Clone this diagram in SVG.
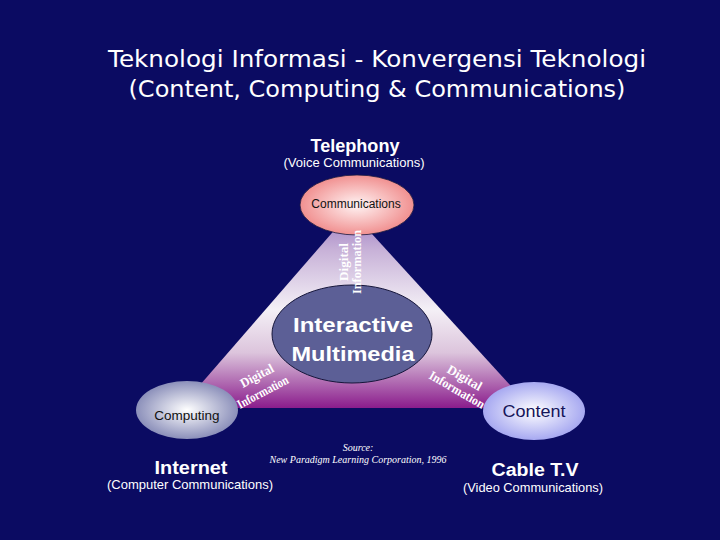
<svg xmlns="http://www.w3.org/2000/svg" width="720" height="540" viewBox="0 0 720 540">
<defs>
<linearGradient id="triGrad" x1="0" y1="211" x2="0" y2="408" gradientUnits="userSpaceOnUse">
<stop offset="0" stop-color="#9a78c0"/>
<stop offset="0.2" stop-color="#c8b2d8"/>
<stop offset="0.5" stop-color="#f4f0f6"/>
<stop offset="0.72" stop-color="#dcc4dc"/>
<stop offset="1" stop-color="#8a1c8c"/>
</linearGradient>
<radialGradient id="commGrad" cx="0.5" cy="0.5" r="0.6">
<stop offset="0" stop-color="#fff4f4"/>
<stop offset="1" stop-color="#ee7c7c"/>
</radialGradient>
<radialGradient id="compGrad" cx="0.5" cy="0.5" r="0.6">
<stop offset="0" stop-color="#ffffff"/>
<stop offset="1" stop-color="#7479ac"/>
</radialGradient>
<radialGradient id="contGrad" cx="0.5" cy="0.5" r="0.6">
<stop offset="0" stop-color="#ffffff"/>
<stop offset="1" stop-color="#9597ee"/>
</radialGradient>
</defs>
<style>
.sans{font-family:"Liberation Sans",Arial,sans-serif}
.title{font-family:"DejaVu Sans","Liberation Sans",sans-serif;font-size:23px;fill:#ffffff}
.head{font-family:"Liberation Sans",Arial,sans-serif;font-weight:bold;fill:#ffffff}
.sub{font-family:"Liberation Sans",Arial,sans-serif;font-size:13px;fill:#ffffff}
.dig{font-family:"Liberation Serif","Times New Roman",serif;font-size:13px;fill:#ffffff;font-weight:bold}
.src{font-family:"Liberation Serif","Times New Roman",serif;font-style:italic;font-size:10px;fill:#ffffff}
</style>
<rect x="0" y="0" width="720" height="540" fill="#0b0b62"/>
<g id="title">
<text class="title" x="377" y="67" text-anchor="middle" textLength="538" lengthAdjust="spacingAndGlyphs">Teknologi Informasi - Konvergensi Teknologi</text>
<text class="title" x="377" y="97" text-anchor="middle" textLength="497" lengthAdjust="spacingAndGlyphs">(Content, Computing &amp; Communications)</text>
</g>
<g id="connectors">
<polygon points="351,211 180,408 531,408" fill="url(#triGrad)"/>
</g>
<g id="telephony">
<text class="head" x="355" y="152" font-size="18" text-anchor="middle" textLength="89" lengthAdjust="spacingAndGlyphs">Telephony</text>
<text class="sub" x="354" y="167" text-anchor="middle" textLength="141" lengthAdjust="spacingAndGlyphs">(Voice Communications)</text>
</g>
<g id="communications">
<ellipse cx="357" cy="205" rx="57" ry="30" fill="url(#commGrad)" stroke="#1a1a40" stroke-width="0.8"/>
<text class="sans" x="356" y="208" font-size="12" fill="#111111" text-anchor="middle">Communications</text>
</g>
<g id="multimedia">
<ellipse cx="352" cy="334" rx="80" ry="49" fill="#5c5f96" stroke="#15153a" stroke-width="1"/>
<text class="sans" x="353" y="332" font-size="21" font-weight="bold" fill="#ffffff" text-anchor="middle" textLength="120" lengthAdjust="spacingAndGlyphs">Interactive</text>
<text class="sans" x="353" y="361" font-size="21" font-weight="bold" fill="#ffffff" text-anchor="middle" textLength="123" lengthAdjust="spacingAndGlyphs">Multimedia</text>
</g>
<g id="digital-labels">
<text class="dig" transform="translate(348,281) rotate(-90)" textLength="38" lengthAdjust="spacingAndGlyphs">Digital</text>
<text class="dig" transform="translate(361,294) rotate(-90)" textLength="64" lengthAdjust="spacingAndGlyphs">Information</text>
<text class="dig" transform="translate(243,388) rotate(-28)" textLength="36" lengthAdjust="spacingAndGlyphs">Digital</text>
<text class="dig" transform="translate(240,409) rotate(-28)" textLength="56" lengthAdjust="spacingAndGlyphs">Information</text>
<text class="dig" transform="translate(446,372) rotate(30)" textLength="38" lengthAdjust="spacingAndGlyphs">Digital</text>
<text class="dig" transform="translate(428,378) rotate(30)" textLength="62" lengthAdjust="spacingAndGlyphs">Information</text>
</g>
<g id="computing">
<ellipse cx="187" cy="410" rx="51" ry="29" fill="url(#compGrad)"/>
<text class="sans" x="187" y="420" font-size="13.5" fill="#111111" text-anchor="middle">Computing</text>
</g>
<g id="content">
<ellipse cx="534" cy="411" rx="51" ry="29" fill="url(#contGrad)"/>
<text class="sans" x="534" y="417" font-size="16" fill="#15155a" text-anchor="middle" textLength="63" lengthAdjust="spacingAndGlyphs">Content</text>
</g>
<g id="internet">
<text class="head" x="191" y="474" font-size="18" text-anchor="middle" textLength="73" lengthAdjust="spacingAndGlyphs">Internet</text>
<text class="sub" x="190" y="489" text-anchor="middle" textLength="166" lengthAdjust="spacingAndGlyphs">(Computer Communications)</text>
</g>
<g id="cabletv">
<text class="head" x="535" y="476" font-size="18" text-anchor="middle" textLength="87" lengthAdjust="spacingAndGlyphs">Cable  T.V</text>
<text class="sub" x="533" y="492" text-anchor="middle" textLength="140" lengthAdjust="spacingAndGlyphs">(Video Communications)</text>
</g>
<g id="source">
<text class="src" x="358" y="451" text-anchor="middle">Source:</text>
<text class="src" x="358" y="463" text-anchor="middle">New Paradigm Learning Corporation, 1996</text>
</g>
</svg>
